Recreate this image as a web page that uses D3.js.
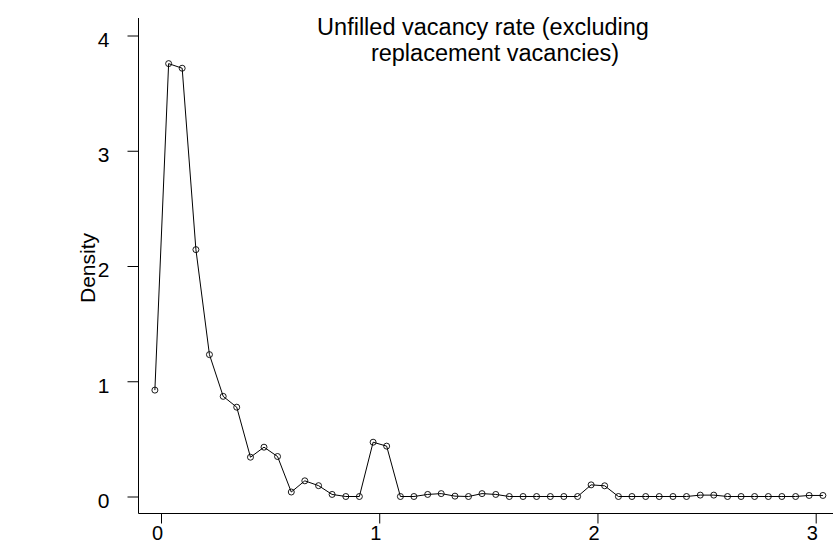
<!DOCTYPE html>
<html><head><meta charset="utf-8">
<script src="https://cdn.jsdelivr.net/npm/d3@7"></script>
<style>body{margin:0;background:#fff}svg{display:block}text{font-family:"Liberation Sans",Arial,sans-serif;fill:#000}</style>
</head><body>
<svg id="c" width="833" height="545"></svg>
<script>
const xValues = [-0.028,0.035,0.097,0.160,0.222,0.285,0.347,0.410,0.472,0.534,0.597,0.659,0.722,0.784,0.847,0.909,0.972,1.034,1.097,1.159,1.222,1.284,1.347,1.409,1.471,1.534,1.596,1.659,1.721,1.784,1.846,1.909,1.971,2.033,2.096,2.158,2.221,2.283,2.346,2.408,2.471,2.533,2.596,2.658,2.720,2.783,2.845,2.908,2.970,3.033];
const density = [0.923,3.756,3.716,2.142,1.231,0.869,0.775,0.341,0.428,0.347,0.039,0.136,0.094,0.018,0,0,0.471,0.437,0,0,0.018,0.025,0.003,0,0.025,0.018,0,0,0,0,0,0,0.101,0.093,0,0,0,0,0,0,0.012,0.012,0,0,0,0,0,0,0.009,0.009];
const xTicks = [0,1,2,3];
const yTicks = [0,1,2,3,4];
const titleLines = ["Unfilled vacancy rate (excluding","replacement vacancies)"];
const yLabel = "Density";

const svg = d3.select("#c");
const x = d3.scaleLinear().domain([0,3]).range([161,815.7]);
const y = d3.scaleLinear().domain([0,4]).range([496.5,35.5]);
const axisLeftX = 138.5, axisBottomY = 513.5, topY = 18;

svg.append("line").attr("x1",axisLeftX).attr("x2",axisLeftX).attr("y1",topY).attr("y2",axisBottomY).attr("stroke","#000").attr("stroke-width",1);
svg.append("line").attr("x1",axisLeftX).attr("x2",833).attr("y1",axisBottomY).attr("y2",axisBottomY).attr("stroke","#000").attr("stroke-width",1);

const yAxis = d3.axisLeft(y).tickValues(yTicks).tickSize(11).tickPadding(18).tickFormat(d3.format("d"));
const gy = svg.append("g").attr("transform",`translate(${axisLeftX},0)`).call(yAxis);
gy.select(".domain").remove();
gy.selectAll("text").style("font-size","21px").attr("dy","0.52em");

const xAxis = d3.axisBottom(x).tickValues(xTicks).tickSize(10).tickPadding(2).tickFormat(d3.format("d"));
const gx = svg.append("g").attr("transform",`translate(0,${axisBottomY})`).call(xAxis);
gx.select(".domain").remove();
gx.selectAll("text").style("font-size","20px").attr("dx","-4");

const pts = xValues.map((v,i)=>[v,density[i]]);
const line = d3.line().x(d=>x(d[0])).y(d=>y(d[1]));
svg.append("path").datum(pts).attr("d",line).attr("fill","none").attr("stroke","#000").attr("stroke-width",1);
svg.selectAll("circle.pt").data(pts).enter().append("circle").attr("class","pt")
  .attr("cx",d=>x(d[0])).attr("cy",d=>y(d[1])).attr("r",3).attr("fill","none").attr("stroke","#000").attr("stroke-width",0.9);

svg.append("text").attr("x",483).attr("y",35).attr("text-anchor","middle").style("font-size","23.5px").text(titleLines[0]);
svg.append("text").attr("x",495).attr("y",61).attr("text-anchor","middle").style("font-size","23.5px").text(titleLines[1]);

svg.append("text").attr("transform","translate(95,268) rotate(-90)").attr("text-anchor","middle").style("font-size","21px").text(yLabel);
</script>
</body></html>
